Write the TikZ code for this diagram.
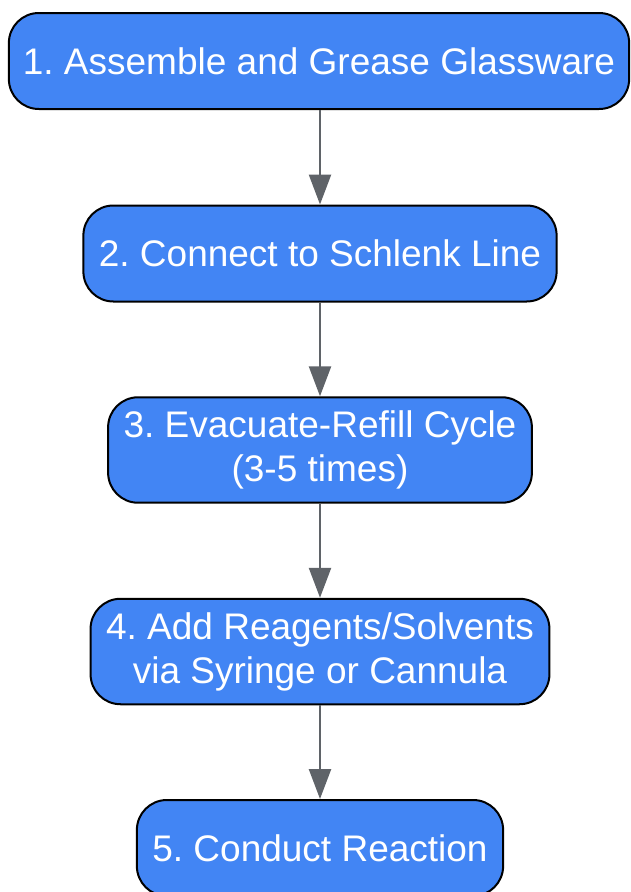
\documentclass[tikz,border=0pt]{standalone}
\usepackage{fontspec}
\setmainfont{Liberation Sans}
\usetikzlibrary{arrows.meta}
\definecolor{stepblue}{HTML}{4285F4}
\definecolor{arrowgray}{HTML}{5F6368}
\frenchspacing

\begin{document}
\begin{tikzpicture}[x=1pt, y=-1pt]
				\tikzstyle{every node}=[align=center]
				\tikzstyle{stage}=[draw=black, line width=2pt, fill=stepblue, text=white, rounded corners=30pt, minimum height=96pt, inner xsep=15.5pt, inner ysep=13.5pt, font=\fontsize{37}{44}\selectfont]
				\tikzstyle{flow}=[draw=arrowgray, line width=2.5pt, -{Triangle[length=30pt, width=22pt]}]
				\useasboundingbox (0, 0) rectangle (630, 892);
				\node[stage, inner xsep=14pt] (S1) at (319, 61) {1. Assemble and Grease Glassware};
				\node[stage] (S2) at (320, 253.5) {2. Connect to Schlenk Line};
				\node[stage] (S3) at (320, 450) {3. Evacuate-Refill Cycle\\(3-5 times)};
				\node[stage] (S4) at (320, 651.5) {4. Add Reagents/Solvents\\via Syringe or Cannula};
				\node[stage] (S5) at (320, 848) {5. Conduct Reaction};
				\draw [flow] (S1.south -| S2) -- (S2);
				\draw [flow] (S2) -- (S3);
				\draw [flow] (S3) -- (S4);
				\draw [flow] (S4) -- (S5);
		\end{tikzpicture}
\end{document}
